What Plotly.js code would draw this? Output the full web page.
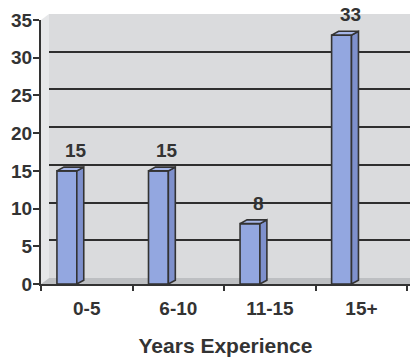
<!DOCTYPE html>
<html>
<head>
<meta charset="utf-8">
<script src="https://cdn.plot.ly/plotly-3.0.1.min.js"></script>
<style>
  html, body { margin: 0; padding: 0; background: #ffffff; }
  #chart { width: 410px; height: 360px; }
</style>
</head>
<body>
<div id="chart"></div>
<script>
// Respondents by years of experience
const categories = ['0-5', '6-10', '11-15', '15+'];
const counts = [15, 15, 8, 33];
const yTicks = [0, 5, 10, 15, 20, 25, 30, 35];

// Page geometry (pixels) used to place the axis domains
const W = 410, H = 360;
const px = v => v / W;          // horizontal pixel -> paper
const py = v => (H - v) / H;    // vertical pixel -> paper

// Pseudo-3D column: front face, side face and top face
const FRONT_OFF = -0.326, FRONT_W = 0.217;
const DEPTH_X = 0.076, DEPTH_Y = 0.5;

const ink = '#333333';
const font = { family: 'Liberation Sans, Arial, sans-serif', size: 19, color: ink, weight: 'bold' };

const idx = categories.map((c, i) => i);

const traces = [];

// Empty traces so the back-wall grid and the category label axis get drawn
traces.push({ type: 'scatter', x: [], y: [], xaxis: 'x', yaxis: 'y', hoverinfo: 'skip', showlegend: false });
traces.push({ type: 'scatter', x: [], y: [], xaxis: 'x3', yaxis: 'y2', hoverinfo: 'skip', showlegend: false });

// Front faces
traces.push({
  type: 'bar',
  x: idx,
  y: counts,
  xaxis: 'x2', yaxis: 'y2',
  offset: FRONT_OFF,
  width: FRONT_W,
  marker: { color: '#93a7e0', line: { color: ink, width: 1.6 } },
  hoverinfo: 'skip'
});

// Side and top faces built from each value
counts.forEach((v, i) => {
  const xl = i + FRONT_OFF;
  const xr = xl + FRONT_W;
  traces.push({
    type: 'scatter', mode: 'lines', fill: 'toself',
    x: [xr, xr + DEPTH_X, xr + DEPTH_X, xr, xr],
    y: [0, DEPTH_Y, v + DEPTH_Y, v, 0],
    xaxis: 'x2', yaxis: 'y2',
    fillcolor: '#7e90cc',
    line: { color: ink, width: 1.6 },
    hoverinfo: 'skip', showlegend: false
  });
  traces.push({
    type: 'scatter', mode: 'lines', fill: 'toself',
    x: [xl, xl + DEPTH_X, xr + DEPTH_X, xr, xl],
    y: [v, v + DEPTH_Y, v + DEPTH_Y, v, v],
    xaxis: 'x2', yaxis: 'y2',
    fillcolor: '#a6b6e8',
    line: { color: ink, width: 1.6 },
    hoverinfo: 'skip', showlegend: false
  });
});

// Value labels above each column
const annotations = counts.map((v, i) => ({
  x: i - 0.12, y: v + DEPTH_Y,
  xref: 'x2', yref: 'y2',
  text: String(v),
  showarrow: false,
  yanchor: 'bottom',
  yshift: 4,
  font: font
}));

const layout = {
  width: W, height: H,
  margin: { l: 0, r: 0, t: 0, b: 0 },
  paper_bgcolor: '#ffffff',
  plot_bgcolor: 'rgba(0,0,0,0)',
  showlegend: false,
  hovermode: false,
  // back wall (grid only)
  xaxis: {
    domain: [px(49), 1], range: [-0.5, 3.5], anchor: 'y',
    showgrid: false, zeroline: false, showline: false,
    ticks: '', showticklabels: false, fixedrange: true
  },
  yaxis: {
    domain: [py(278), py(14)], range: [0, 35], anchor: 'x',
    tickvals: yTicks.slice(1, -1),
    showgrid: true, gridcolor: '#2e2e2e', gridwidth: 2,
    zeroline: false, showline: false,
    ticks: '', showticklabels: false, fixedrange: true
  },
  // front frame carrying the columns
  xaxis2: {
    domain: [px(41), 1], range: [-0.5, 3.53], anchor: 'y2',
    tickvals: [-0.5, 0.5, 1.5, 2.5, 3.5],
    ticks: 'outside', ticklen: 5, tickwidth: 2, tickcolor: ink,
    showticklabels: false,
    showline: true, linecolor: ink, linewidth: 2,
    showgrid: false, zeroline: false, fixedrange: true
  },
  xaxis3: {
    overlaying: 'x2', anchor: 'y2', side: 'bottom',
    range: [-0.5, 3.53],
    tickvals: idx, ticktext: categories,
    ticks: '', ticklabelstandoff: 11,
    tickfont: font,
    showline: false, showgrid: false, zeroline: false,
    title: { text: 'Years Experience', font: Object.assign({}, font, { size: 21 }), standoff: 20 },
    fixedrange: true
  },
  yaxis2: {
    domain: [py(284), py(20)], range: [0, 35], anchor: 'x2',
    tickvals: yTicks,
    ticks: 'outside', ticklen: 6, tickwidth: 2, tickcolor: ink,
    ticklabelstandoff: -3,
    tickfont: font,
    showline: true, linecolor: ink, linewidth: 2,
    showgrid: false, zeroline: false, fixedrange: true
  },
  shapes: [
    // back wall
    { type: 'rect', xref: 'x domain', yref: 'y domain', x0: 0, x1: 1, y0: 0, y1: 1,
      fillcolor: '#dadbdd', line: { width: 0 }, layer: 'below' },
    // left side wall
    { type: 'path', xref: 'paper', yref: 'paper', layer: 'below',
      path: `M ${px(41)} ${py(284)} L ${px(49)} ${py(278)} L ${px(49)} ${py(14)} L ${px(41)} ${py(20)} Z`,
      fillcolor: '#e6e7e9', line: { width: 0 } },
    // floor
    { type: 'path', xref: 'paper', yref: 'paper', layer: 'below',
      path: `M ${px(41)} ${py(284)} L ${px(49)} ${py(278)} L 1 ${py(278)} L 1 ${py(284)} Z`,
      fillcolor: '#bdbfc2', line: { width: 0 } }
  ],
  annotations: annotations
};

Plotly.newPlot('chart', traces, layout, { staticPlot: true, displayModeBar: false });
</script>
</body>
</html>
